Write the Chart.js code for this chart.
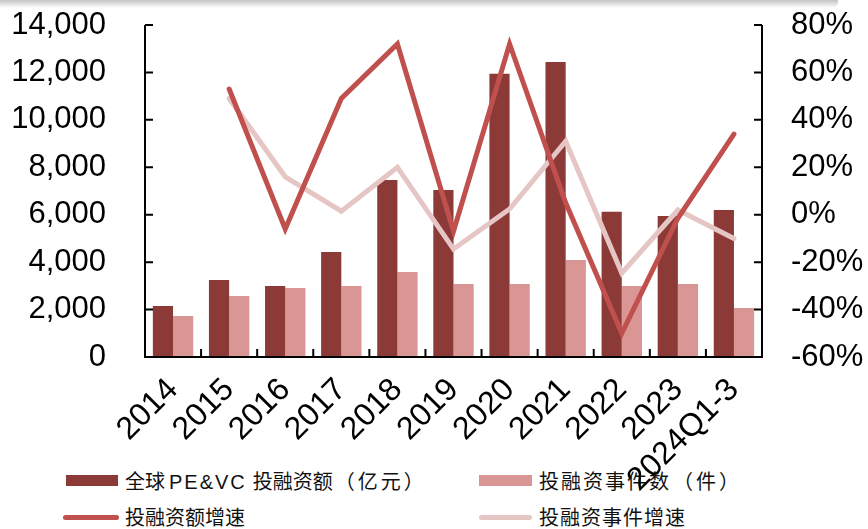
<!DOCTYPE html>
<html>
<head>
<meta charset="utf-8">
<script src="https://cdn.jsdelivr.net/npm/chart.js@4"></script>
<style>
  body { margin: 0; background: #fff; }
  #wrap { position: relative; width: 868px; height: 529px; overflow: hidden; }
  #topband { position: absolute; left: 0; top: 0; width: 838px; height: 8px;
    background: linear-gradient(#c4c4c4, #fff); border-radius: 0 0 6px 0; }
  #chart { position: absolute; left: 0; top: 0; z-index: 2; }
  .leg { position: absolute; z-index: 1; font-family: "Noto Sans CJK SC", sans-serif;
    font-size: 20px; color: #111; white-space: nowrap; line-height: 20px; }
  .leg .lat { font-family: "Liberation Sans", Arial, sans-serif; letter-spacing: 2px; margin: 0 6px 0 4px; }
  .leg .par { letter-spacing: 3px; margin-left: 2px; }
  .swatch { position: absolute; z-index: 1; }
</style>
</head>
<body>
<div id="wrap">
  <div id="topband"></div>
  <div class="swatch" style="left:66px;top:475px;width:52px;height:11px;background:#8b3a38"></div>
  <div class="leg" style="left:125px;top:471px">全球<span class="lat">PE&amp;VC</span>投融资额<span class="par">（亿元）</span></div>
  <div class="swatch" style="left:479px;top:475px;width:53px;height:11px;background:#da9694"></div>
  <div class="leg" style="left:539px;top:471px;letter-spacing:2px">投融资事件数<span class="par">（件）</span></div>
  <div class="swatch" style="left:63px;top:515px;width:56px;height:5px;border-radius:3px;background:#c0504d"></div>
  <div class="leg" style="left:125px;top:507px">投融资额增速</div>
  <div class="swatch" style="left:479px;top:515px;width:53px;height:5px;border-radius:3px;background:#e6c5c5"></div>
  <div class="leg" style="left:539px;top:507px;letter-spacing:1px">投融资事件增速</div>
  <canvas id="chart" width="868" height="529"></canvas>
</div>
<script>
const labels = ["2014", "2015", "2016", "2017", "2018", "2019", "2020", "2021", "2022", "2023", "2024Q1-3"];
const amount = [2150, 3250, 2990, 4430, 7460, 7040, 11940, 12440, 6120, 5950, 6200];
const count = [1730, 2570, 2910, 2990, 3580, 3080, 3080, 4090, 2990, 3080, 2070];
const amountGrowth = [null, 53, -6, 49, 72, -7, 72, 5, -50, -1.5, 34];
const countGrowth = [null, 49, 16, 1.5, 20, -14.5, 2.4, 31, -24.6, 2, -10];

// axis lines + inside tick marks
const axisLines = {
  id: "axisLines",
  afterDraw(chart) {
    const { ctx, chartArea: a, scales } = chart;
    ctx.save();
    ctx.strokeStyle = "#000";
    ctx.lineWidth = 2;
    ctx.beginPath();
    ctx.moveTo(a.left, a.top);
    ctx.lineTo(a.left, a.bottom);
    ctx.lineTo(a.right, a.bottom);
    ctx.lineTo(a.right, a.top);
    scales.y.ticks.forEach((t) => {
      const p = scales.y.getPixelForValue(t.value);
      ctx.moveTo(a.left, p);
      ctx.lineTo(a.left + 8, p);
    });
    scales.y1.ticks.forEach((t) => {
      const p = scales.y1.getPixelForValue(t.value);
      ctx.moveTo(a.right, p);
      ctx.lineTo(a.right - 8, p);
    });
    for (let i = 1; i < labels.length; i++) {
      const x = (scales.x.getPixelForValue(i - 1) + scales.x.getPixelForValue(i)) / 2;
      ctx.moveTo(x, a.bottom);
      ctx.lineTo(x, a.bottom - 8);
    }
    ctx.stroke();
    ctx.restore();
  },
};

const tickFont = { family: "'Liberation Sans', Arial, sans-serif", size: 31 };

new Chart(document.getElementById("chart"), {
  type: "bar",
  data: {
    labels: labels,
    datasets: [
      {
        type: "line",
        label: "投融资额增速",
        data: amountGrowth,
        yAxisID: "y1",
        borderColor: "#c0504d",
        borderWidth: 5,
        borderCapStyle: "round",
        pointRadius: 0,
        tension: 0,
        order: 0,
      },
      {
        type: "line",
        label: "投融资事件增速",
        data: countGrowth,
        yAxisID: "y1",
        borderColor: "#e6c5c5",
        borderWidth: 5,
        borderCapStyle: "round",
        pointRadius: 0,
        tension: 0,
        order: 1,
      },
      {
        label: "全球PE&VC投融资额（亿元）",
        data: amount,
        yAxisID: "y",
        backgroundColor: "#8b3a38",
        categoryPercentage: 0.72,
        barPercentage: 1,
        order: 2,
      },
      {
        label: "投融资事件数（件）",
        data: count,
        yAxisID: "y",
        backgroundColor: "#da9694",
        categoryPercentage: 0.72,
        barPercentage: 1,
        order: 2,
      },
    ],
  },
  options: {
    responsive: false,
    animation: false,
    devicePixelRatio: 1,
    layout: { padding: { top: 25, left: 0, right: 0, bottom: 0 } },
    plugins: { legend: { display: false }, tooltip: { enabled: false } },
    scales: {
      x: {
        grid: { display: false, drawTicks: false },
        border: { display: false },
        ticks: {
          color: "#000",
          font: { family: tickFont.family, size: 32 },
          autoSkip: false,
          minRotation: 45,
          maxRotation: 45,
          padding: 14,
        },
        afterFit: (s) => {
          s.height = 172;
          s.paddingLeft = 0;
          s.paddingRight = 0;
        },
      },
      y: {
        position: "left",
        min: 0,
        max: 14000,
        grid: { display: false, drawTicks: false },
        border: { display: false },
        ticks: {
          stepSize: 2000,
          color: "#000",
          font: tickFont,
          padding: 39,
          callback: (v) => v.toLocaleString("en-US"),
        },
        afterFit: (s) => {
          s.width = 145;
          s.paddingTop = 0;
          s.paddingBottom = 0;
        },
      },
      y1: {
        position: "right",
        min: -60,
        max: 80,
        grid: { display: false, drawTicks: false },
        border: { display: false },
        ticks: {
          stepSize: 20,
          color: "#000",
          font: tickFont,
          padding: 29,
          callback: (v) => v + "%",
        },
        afterFit: (s) => {
          s.width = 106;
          s.paddingTop = 0;
          s.paddingBottom = 0;
        },
      },
    },
  },
  plugins: [axisLines],
});
</script>
</body>
</html>
